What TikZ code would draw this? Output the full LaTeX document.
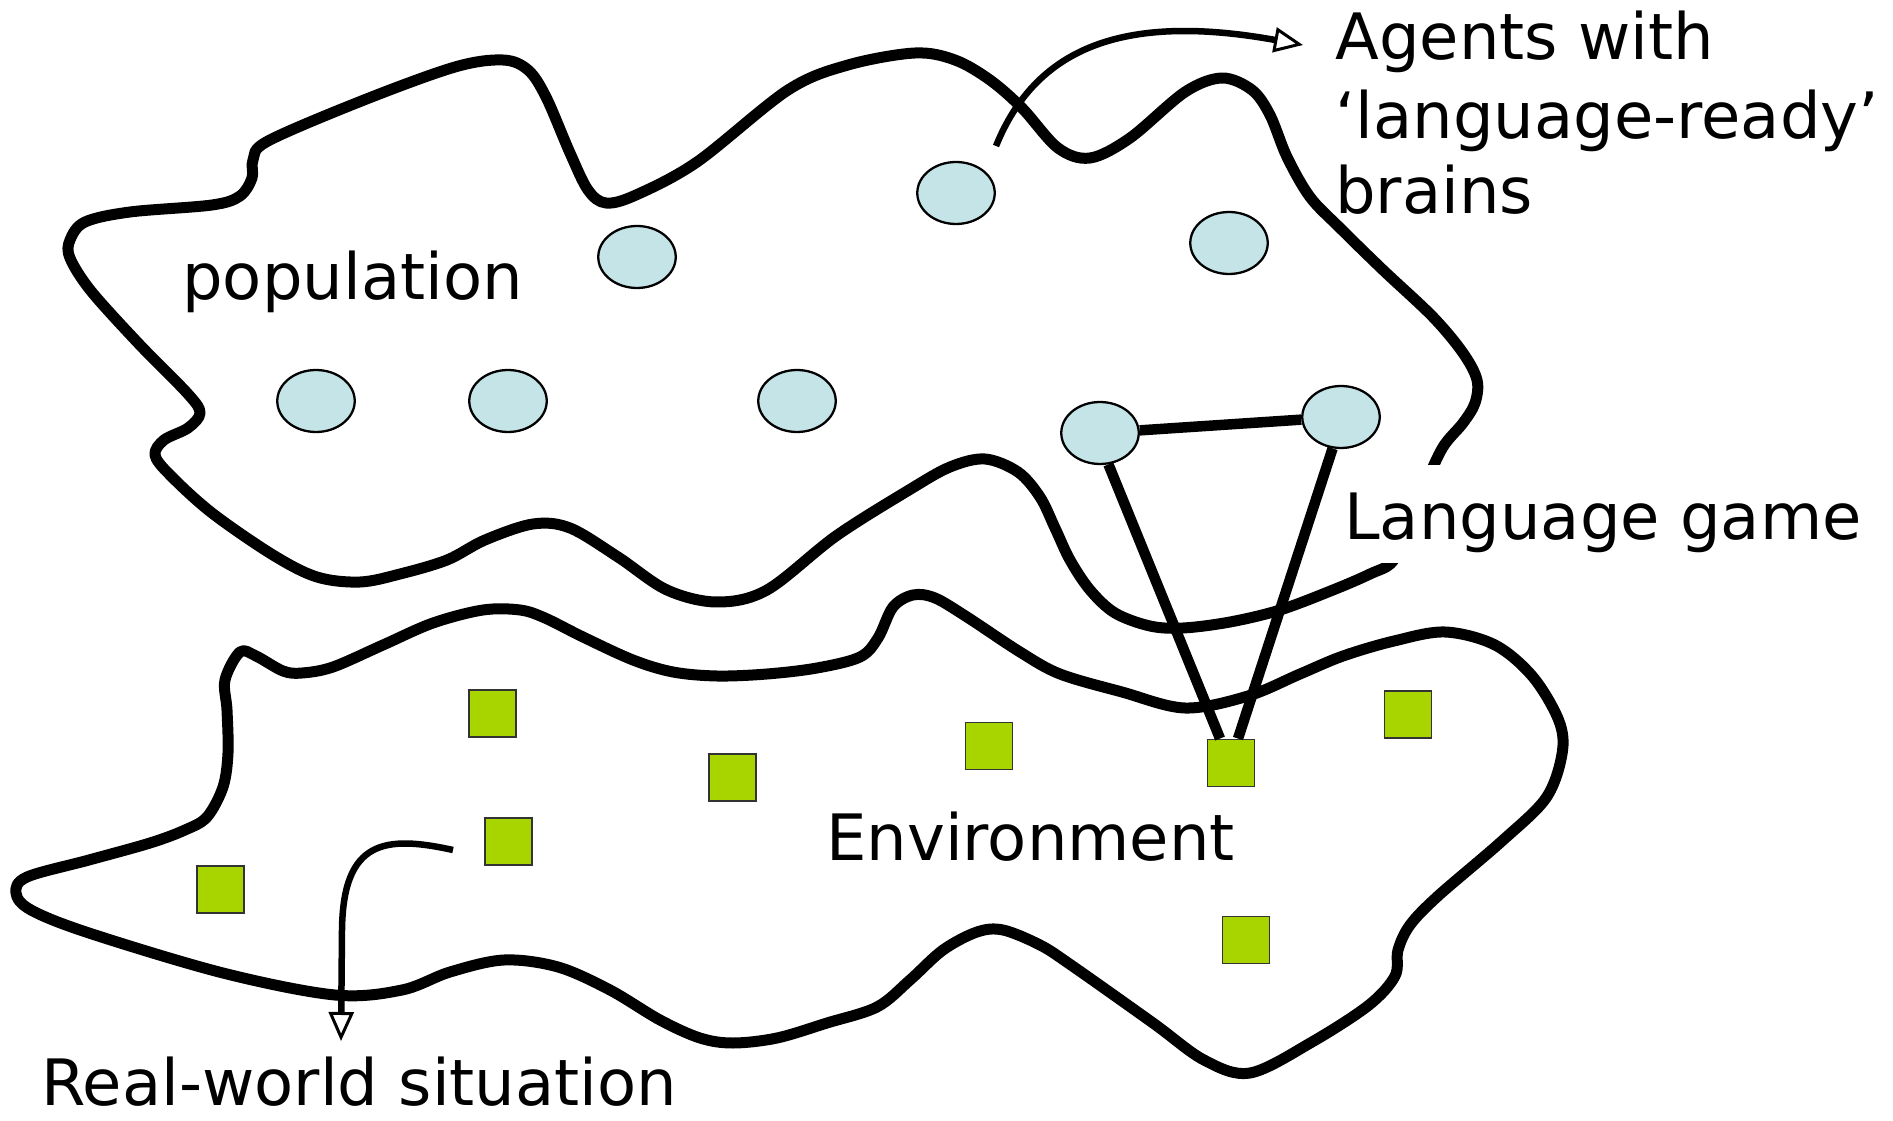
\documentclass[tikz,border=0pt]{standalone}
\usepackage{fontspec}
\setmainfont{DejaVu Sans}
\usetikzlibrary{shapes.geometric,arrows.meta,calc}
\definecolor{agentblue}{HTML}{C5E4E8}
\definecolor{objgreen}{HTML}{A8D400}
\definecolor{sqedge}{HTML}{333333}
\begin{document}
\begin{tikzpicture}[x=0.02cm, y=-0.02cm,
  blob/.style={line width=0.22cm, line join=round},
  agent/.style={ellipse, draw=black, line width=1.3pt, fill=agentblue,
    minimum width=1.55cm, minimum height=1.24cm, inner sep=0pt},
  thing/.style={rectangle, draw=sqedge, line width=1.1pt, fill=objgreen,
    minimum size=0.94cm, inner sep=0pt},
  lbl/.style={font=\fontsize{36.4pt}{44pt}\selectfont, inner sep=0pt, anchor=base west},
  game/.style={line width=0.21cm},
  pointer/.style={line width=0.13cm,
    -{Triangle[open, length=0.58cm, width=0.5cm, line width=1.7pt]}}
]
\useasboundingbox (0,0) rectangle (1893,1121);
\fill[white] (0,0) rectangle (1893,1121);

% population region
\draw[blob] plot[smooth cycle, tension=0.55] coordinates {
 (70,240) (85,222) (130,212) (212,205) (240,196) (252,178) (253,160) (268,141)
 (364,100) (455,67) (503,60) (528,70) (546,97) (570,153) (588,190) (606,203)
 (636,195) (697,162) (788,90) (848,65) (915,53) (955,60) (990,80) (1022,108)
 (1058,148) (1090,158) (1130,138) (1185,92) (1222,78) (1252,90) (1270,115)
 (1287,157) (1310,197) (1340,228) (1383,270) (1433,317) (1463,353) (1477,380)
 (1475,403) (1463,423) (1443,447) (1425,485) (1408,525) (1393,561) (1370,574)
 (1333,590) (1280,610) (1230,622) (1183,628) (1150,626) (1115,613) (1090,590)
 (1070,560) (1055,528) (1040,497) (1018,472) (985,459) (950,467) (909,490)
 (836,536) (767,590) (717,602) (667,590) (618,557) (570,528) (533,524) (485,540)
 (447,560) (400,574) (360,582) (317,577) (273,555) (212,513) (170,475) (155,455)
 (164,440) (188,428) (200,413) (188,394) (139,344) (91,291) (70,258)};

% environment region
\draw[blob] plot[smooth cycle, tension=0.55] coordinates {
 (240,652) (256,656) (283,671) (302,673) (333,667) (383,645) (433,623) (483,610)
 (520,610) (545,618) (583,637) (633,660) (673,672) (717,676) (767,674) (817,668)
 (860,657) (878,638) (893,607) (913,595) (935,598) (967,617) (1020,652) (1060,674)
 (1122,692) (1185,708) (1248,696) (1300,674) (1343,656) (1394,641) (1445,632)
 (1495,645) (1533,677) (1559,721) (1562,754) (1546,798) (1502,841) (1438,896)
 (1410,925) (1398,950) (1395,976) (1369,1005) (1312,1042) (1250,1073) (1204,1060)
 (1153,1023) (1071,965) (1040,945) (1003,930) (977,932) (943,950) (910,980)
 (877,1007) (827,1023) (777,1038) (733,1043) (700,1038) (660,1020) (610,990)
 (558,967) (504,960) (450,972) (402,990) (335,995) (223,973) (89,933) (31,910)
 (16,893) (27,877) (89,860) (150,843) (185,830) (207,817) (223,787) (228,753)
 (227,710) (225,680)};

% label with white background (interrupts the outline)
\node[lbl, fill=white, inner xsep=0.1cm, inner ysep=0pt, text height=1.5cm, text depth=0.46cm]
  (gamelbl) at (1339,540) {Language game};

% agents
\node[agent] (a1) at (637,257) {};
\node[agent] (a2) at (956,193) {};
\node[agent] (a3) at (1229,243) {};
\node[agent] (a4) at (316,401) {};
\node[agent] (a5) at (508,401) {};
\node[agent] (a6) at (797,401) {};
\node[agent] (a7) at (1100,433) {};
\node[agent] (a8) at (1341,417) {};

% objects
\node[thing] (o1) at (492.5,713.5) {};
\node[thing] (o2) at (732.5,777.5) {};
\node[thing] (o3) at (989,746) {};
\node[thing] (o4) at (1231,763) {};
\node[thing] (o5) at (1408,714.5) {};
\node[thing] (o6) at (508.5,841.5) {};
\node[thing] (o7) at (220.5,889.5) {};
\node[thing] (o8) at (1246,940) {};

% texts
\node[lbl] (pop) at (182,300) {population};
\node[lbl] (agentsA) at (1335,60) {Agents with};
\node[lbl] (agentsB) at (1335,139) {‘language-ready’};
\node[lbl] (agentsC) at (1335,214) {brains};
\node[lbl] (env) at (826,860) {Environment};
\node[lbl, text depth=0pt] (real) at (41,1105) {Real-world situation};

% language game links
\draw[game] (a7) -- (a8);
\draw[game] (a7.-75) -- ($(o4.north)+(-11,0)$);
\draw[game] (a8.-105) -- ($(o4.north)+(7,0)$);

% pointers
\coordinate (agentsStart) at (996,146);
\draw[pointer] (agentsStart) .. controls (1035,50) and (1120,12) .. ($(agentsA.base west)+(-32,-15)$);
\coordinate (realStart) at (453,850);
\draw[pointer] (realStart) .. controls (385,835) and (343,840) .. (342,930) -- ($(real.base west)+(300,-64)$);
\end{tikzpicture}
\end{document}
